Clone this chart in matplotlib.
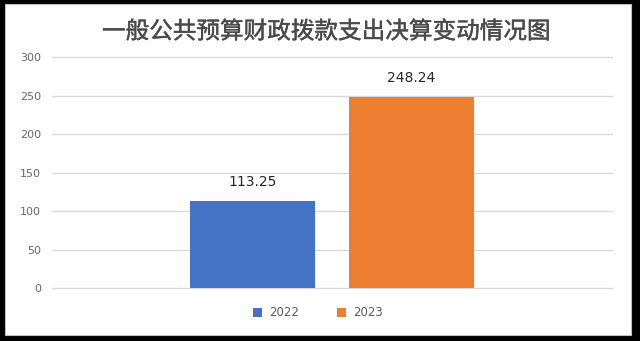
import matplotlib
matplotlib.use("Agg")
import matplotlib.pyplot as plt
import matplotlib.patheffects as pe
from matplotlib.patches import Rectangle, Patch

plt.rcParams['font.family'] = ['Noto Sans CJK SC', 'DejaVu Sans']

# data
title = "一般公共预算财政拨款支出决算变动情况图"
series = ["2022", "2023"]
values = [113.25, 248.24]
colors = ["#4472C4", "#ED7D31"]
yticks = [0, 50, 100, 150, 200, 250, 300]

fig = plt.figure(figsize=(6.4, 3.41), dpi=100)
fig.patch.set_facecolor("black")

# white chart area on black background
fig.patches.append(Rectangle((5/640, 1-335/341), 626/640, 331/341,
                             transform=fig.transFigure, facecolor="white",
                             edgecolor="#BFBFBF", lw=0.8, zorder=-1))

ax = fig.add_axes([52/640, 1-288.3/341, 560/640, 231/341])
ax.set_facecolor("none")
ax.set_zorder(2)

bar_w = 0.2232
offsets = [-0.142, 0.142]
for name, v, c, off in zip(series, values, colors, offsets):
    ax.bar(off, v, width=bar_w, color=c, zorder=2)
    ax.annotate(f"{v:.2f}", (off, v), xytext=(0, 9), textcoords="offset points",
                ha="center", va="bottom", fontsize=10, color="#262626",
                family="DejaVu Sans")

ax.set_xlim(-0.5, 0.5)
ax.set_ylim(0, 300)
ax.set_yticks(yticks)
ax.set_xticks([])
ax.yaxis.grid(True, color="#D9D9D9", lw=1, zorder=0)
for gl in ax.get_ygridlines():
    gl.set_clip_on(False)
ax.set_axisbelow(True)
ax.tick_params(axis="y", length=0, pad=8, labelsize=8, labelcolor="#666666")
for lab in ax.get_yticklabels():
    lab.set_family("DejaVu Sans")
for s in ax.spines.values():
    s.set_visible(False)

fig.text(0.51, 1-32/341, title, ha="center", va="center",
         fontsize=17, color="#4a4a4a", zorder=3,
         path_effects=[pe.withStroke(linewidth=0.3, foreground="#4a4a4a")])

handles = [Patch(facecolor=c, label=n) for n, c in zip(series, colors)]
leg = fig.legend(handles=handles, loc="center", bbox_to_anchor=(318/640, 1-313/341),
                 ncol=2, frameon=False, fontsize=8.5, handlelength=0.8,
                 handleheight=0.8, handletextpad=0.6, columnspacing=3.2)
leg.set_zorder(3)
for t in leg.get_texts():
    t.set_color("#595959")
    t.set_family("DejaVu Sans")

fig.savefig("out.png", dpi=100, facecolor=fig.get_facecolor())
